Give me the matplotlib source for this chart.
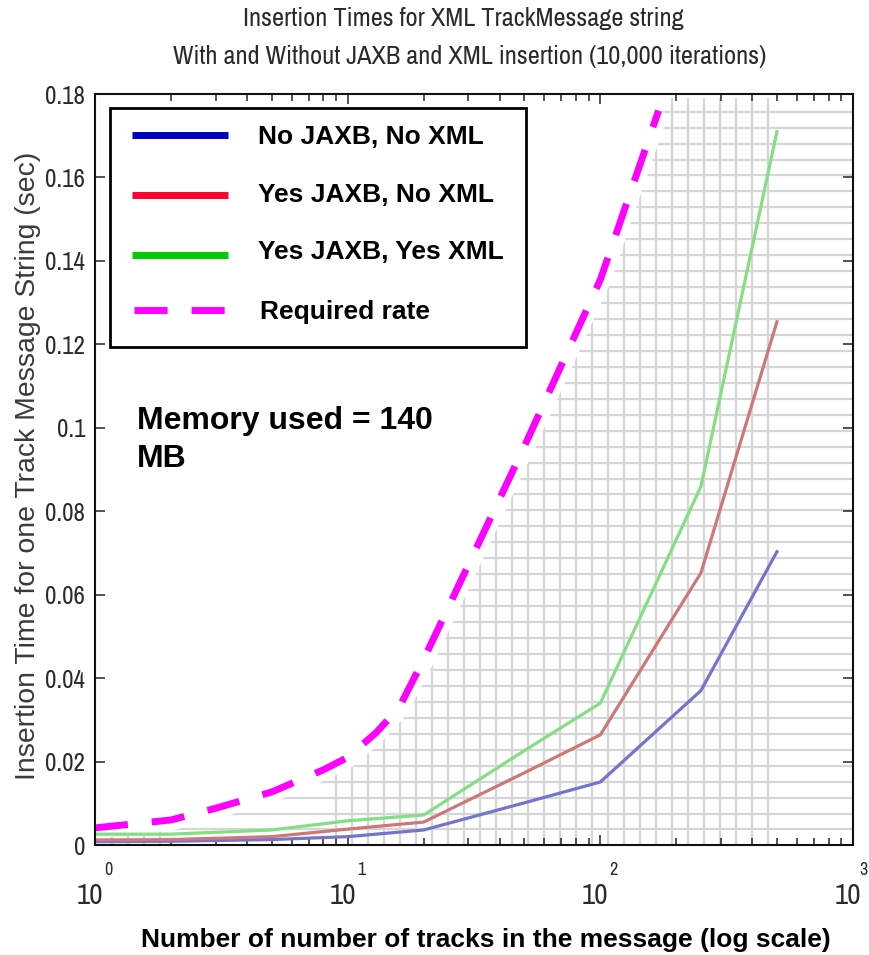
import numpy as np
import matplotlib
matplotlib.use("Agg")
import matplotlib.pyplot as plt
from matplotlib.lines import Line2D
from matplotlib.patches import Rectangle, Polygon
from matplotlib.collections import LineCollection
import matplotlib.transforms as mtransforms
from matplotlib import font_manager as fm

plt.rcParams['lines.scale_dashes'] = False

# ---------------- data ----------------
tracks = [1, 2, 5, 10, 20, 50, 100, 250, 500]
no_jaxb_no_xml = [0.0008, 0.0009, 0.0013, 0.0020, 0.0036, 0.0101, 0.0151, 0.0370, 0.0703]
yes_jaxb_no_xml = [0.0012, 0.0013, 0.0020, 0.0038, 0.0055, 0.0173, 0.0264, 0.0652, 0.1254]
yes_jaxb_yes_xml = [0.0026, 0.0026, 0.0036, 0.0058, 0.0072, 0.0226, 0.0340, 0.0859, 0.1710]

req_tracks = [1, 2, 3, 5, 8, 10, 13, 16, 20, 50, 100, 170]
req_rate = [0.0041, 0.0060, 0.0088, 0.0127, 0.0180, 0.0210, 0.0270, 0.0330, 0.0445, 0.0955, 0.1355, 0.1760]

series_names = ["No JAXB, No XML", "Yes JAXB, No XML", "Yes JAXB, Yes XML", "Required rate"]
ytick_vals = [0, 0.02, 0.04, 0.06, 0.08, 0.10, 0.12, 0.14, 0.16, 0.18]
ytick_labels = ["0", "0.02", "0.04", "0.06", "0.08", "0.1", "0.12", "0.14", "0.16", "0.18"]
xtick_vals = [1, 10, 100, 1000]
xtick_exps = ["0", "1", "2", "3"]

title_lines = ["Insertion Times for XML TrackMessage string",
               "With and Without JAXB and XML insertion (10,000 iterations)"]
xlabel = "Number of number of tracks in the message (log scale)"
ylabel = "Insertion Time for one Track Message String (sec)"
note = "Memory used = 140\nMB"

# ---------------- fonts ----------------
installed = {f.name for f in fm.fontManager.ttflist}
narrow_pref = ['Liberation Sans Narrow', 'Arial Narrow', 'Archivo Narrow', 'PT Sans Narrow',
               'Roboto Condensed', 'Open Sans Condensed', 'Fira Sans Condensed']
NARROW_NAME = next((n for n in narrow_pref if n in installed), 'DejaVu Sans')
NARROW = [NARROW_NAME, 'DejaVu Sans']
ARIAL = ['Liberation Sans', 'DejaVu Sans']
txt_col = '#2a2a2a'

# ---------------- layout helpers ----------------
W, H = 869, 955
fig = plt.figure(figsize=(W / 100, H / 100), dpi=100)
def fx(px): return px / W
def fy(py): return 1 - py / H

AX_L, AX_R, AX_T, AX_B = 95, 853, 94, 845
ax = fig.add_axes([fx(AX_L), fy(AX_B), (AX_R - AX_L) / W, (AX_B - AX_T) / H])
ax.set_xscale('log')
ax.set_xlim(1, 1000)
ax.set_ylim(0, 0.18)

# ---------------- graph-paper grid (clipped under required-rate curve) ----------------
lx = np.log10(req_tracks)
slope = (req_rate[-1] - req_rate[-2]) / (lx[-1] - lx[-2])
x_ext = 10 ** (lx[-1] + (0.19 - req_rate[-1]) / slope)
verts = [(1, 0)] + list(zip(req_tracks, req_rate)) + [(x_ext, 0.19), (1000, 0.19), (1000, 0)]
clip_poly = Polygon(verts, closed=True, transform=ax.transData, facecolor='none', edgecolor='none')
ax.add_patch(clip_poly)

def afx(px): return (px - AX_L) / (AX_R - AX_L)
def afy(py): return (AX_B - py) / (AX_B - AX_T)

segs = []
for k in range(42):
    xp = 112 + 16 * k
    if 165 < xp < 330:
        continue
    top = 823 if xp < 165 else 98
    segs.append([(afx(xp), afy(AX_B)), (afx(xp), afy(top))])
for k in range(46):
    yp = 111.7 + 15.95 * k
    segs.append([(afx(AX_L), afy(yp)), (afx(AX_R), afy(yp))])
grid = LineCollection(segs, colors='#d6d6d6', linewidths=1.6, transform=ax.transAxes, zorder=1)
ax.add_collection(grid)
grid.set_clip_path(clip_poly)

# ---------------- curves ----------------
ax.plot(req_tracks, req_rate, color='white', lw=15, solid_capstyle='butt', zorder=2)
ax.plot(tracks, no_jaxb_no_xml, color='#7474cc', lw=2.3, zorder=3)
ax.plot(tracks, yes_jaxb_no_xml, color='#cc7878', lw=2.3, zorder=3)
ax.plot(tracks, yes_jaxb_yes_xml, color='#84de84', lw=2.3, zorder=3)
ax.plot(req_tracks, req_rate, color='#ff00ff', lw=5, dashes=(23.8, 17.3),
        dash_capstyle='butt', zorder=4)

# ---------------- axes styling ----------------
for s in ax.spines.values():
    s.set_linewidth(1.5)
    s.set_color('#111111')
    s.set_zorder(6)
ax.tick_params(which='both', direction='in', top=True, right=True, width=1.1, color='#222222')
ax.tick_params(which='major', length=7)
ax.tick_params(which='minor', length=5)
ax.set_xticks(xtick_vals)
ax.set_xticklabels([])
ax.set_yticks(ytick_vals)
ax.set_yticklabels(ytick_labels, family=NARROW, fontsize=18, color=txt_col)
ax.tick_params(axis='y', pad=7)
for t in ax.yaxis.get_major_ticks():
    t.tick2line.set_color('#888888')

# x tick labels "10" with exponent
base_tr = mtransforms.blended_transform_factory(ax.transData, fig.transFigure)
for i, (v, e) in enumerate(zip(xtick_vals, xtick_exps)):
    t1 = mtransforms.offset_copy(base_tr, fig=fig, x=-5, y=0, units='dots')
    ax.text(v, fy(895), "10", transform=t1, ha='center', va='center',
            family=NARROW, fontsize=21, color=txt_col, clip_on=False)
    dx = 13.5 if i < len(xtick_vals) - 1 else 10
    t2 = mtransforms.offset_copy(base_tr, fig=fig, x=dx, y=0, units='dots')
    ax.text(v, fy(870), e, transform=t2, ha='center', va='center',
            family=NARROW, fontsize=13, color=txt_col, clip_on=False)

# ---------------- texts ----------------
fig.text(fx(463), fy(18), title_lines[0], ha='center', va='center', family=NARROW,
         fontsize=19, color=txt_col)
fig.text(fx(470), fy(57), title_lines[1], ha='center', va='center', family=NARROW,
         fontsize=19, color=txt_col)
fig.text(fx(486), fy(940), xlabel, ha='center', va='center', family=ARIAL,
         fontsize=19, fontweight='bold', color='black')
fig.text(fx(28), fy(466), ylabel, ha='center', va='center', rotation=90, family=ARIAL,
         fontsize=20.4, color='#3a3a3a')
fig.text(fx(137), fy(440), note, ha='left', va='center', family=ARIAL, fontsize=23,
         fontweight='bold', color='black', linespacing=1.35)

# ---------------- legend (manual) ----------------
fig.add_artist(Rectangle((fx(110), fy(347)), (526 - 110) / W, (347 - 108) / H,
                         transform=fig.transFigure, facecolor='white', edgecolor='black',
                         linewidth=2, zorder=10))
leg_cols = ['#0000c8', '#ff0030', '#00cc00', '#ff00ff']
leg_y = [135, 195, 255, 310]
txt_y = [137, 195, 252, 312]
for i, (name, c) in enumerate(zip(series_names, leg_cols)):
    kw = dict(dashes=(23.8, 17.3), dash_capstyle='butt') if i == 3 else dict(solid_capstyle='butt')
    x0 = 134 if i == 3 else 132
    fig.add_artist(Line2D([fx(x0), fx(228)], [fy(leg_y[i]), fy(leg_y[i])], transform=fig.transFigure,
                          color=c, lw=5, zorder=11, **kw))
    fig.text(fx(258 if i < 3 else 260), fy(txt_y[i]), name, ha='left', va='center', family=ARIAL,
             fontsize=19, fontweight='bold', color='black', zorder=12)

fig.savefig("out.png", dpi=100)
